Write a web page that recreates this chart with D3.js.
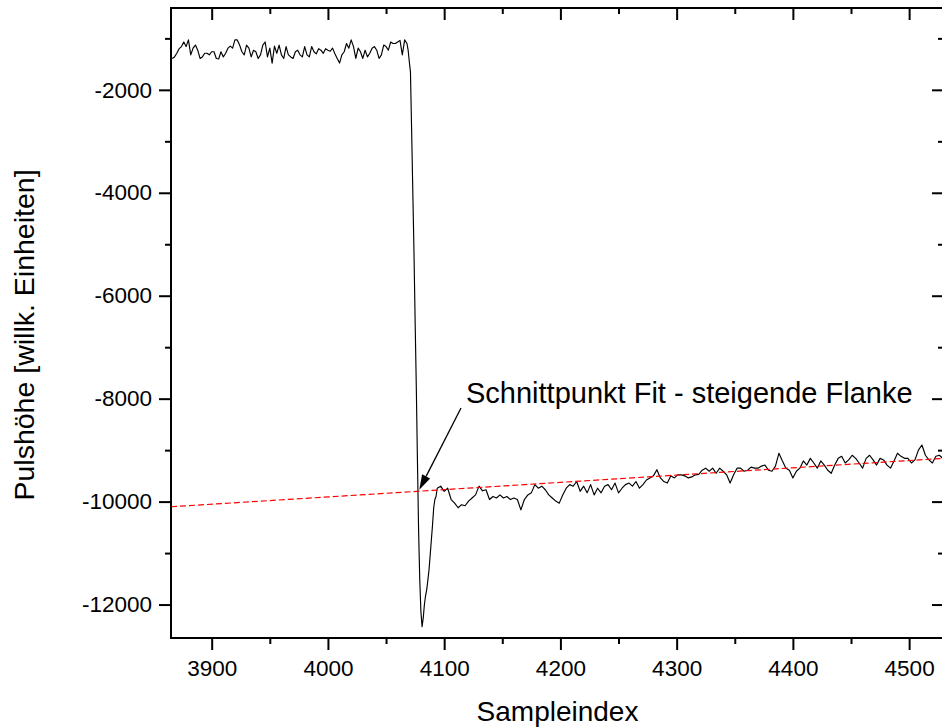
<!DOCTYPE html>
<html>
<head>
<meta charset="utf-8">
<script src="https://cdn.jsdelivr.net/npm/d3@7"></script>
<style>
  html, body { margin: 0; padding: 0; background: #fff; }
  svg { display: block; font-family: "Liberation Sans", Arial, sans-serif; }
</style>
</head>
<body>
<svg id="chart" width="942" height="728"></svg>
<script>
/* Pulse trace, in three pieces:
   baseline before the edge (every 2nd sample), the edge itself (every sample),
   and the slow recovery after it (every 3rd sample). */
const plateauStart = 3866, plateauStep = 2;
const plateauVals = [
  -1390, -1360, -1290, -1200, -1160, -1070, -1160, -1030, -1320, -1190,
  -1130, -1230, -1390, -1360, -1290, -1290, -1320, -1260, -1260, -1390,
  -1400, -1260, -1360, -1290, -1190, -1150, -1190, -1030, -1030, -1130,
  -1260, -1320, -1130, -1190, -1360, -1230, -1260, -1390, -1320, -1130,
  -1070, -1360, -1190, -1480, -1150, -1290, -1130, -1320, -1390, -1160,
  -1320, -1360, -1390, -1260, -1230, -1320, -1360, -1160, -1320, -1360,
  -1160, -1260, -1300, -1200, -1230, -1290, -1200, -1230, -1250, -1190,
  -1300, -1390, -1480, -1320, -1260, -1100, -1190, -1030, -1160, -1390,
  -1190, -1260, -1390, -1230, -1360, -1290, -1190, -1160, -1230, -1390,
  -1320, -1130, -1160, -1230, -1070, -1100, -1100, -1070, -1040, -1320,
  -1030, -1100
];
const edgeStart = 4069;
const edgeVals = [
  -1230, -1450, -1650, -2780, -3950, -5110, -6470, -7730, -9190, -10550,
  -11520, -12140, -12430, -12260, -12000, -11830, -11710, -11520, -11320, -11030,
  -10740, -10450, -10120, -9960, -9900
];
const tailStart = 4094, tailStep = 3;
const tailVals = [
  -9740, -9700, -9800, -9740, -9960, -10030, -10120, -10060, -10080, -9990,
  -9930, -9870, -9700, -9790, -9770, -9960, -9900, -9930, -9870, -9930,
  -9900, -9960, -9930, -9960, -10160, -9960, -9870, -9830, -9670, -9740,
  -9700, -9770, -9870, -9930, -9990, -10030, -9870, -9740, -9670, -9700,
  -9610, -9800, -9700, -9830, -9670, -9870, -9740, -9830, -9700, -9670,
  -9770, -9640, -9830, -9740, -9670, -9640, -9700, -9610, -9740, -9670,
  -9580, -9540, -9500, -9380, -9540, -9610, -9640, -9500, -9540, -9480,
  -9480, -9500, -9540, -9520, -9480, -9470, -9390, -9350, -9410, -9350,
  -9450, -9350, -9410, -9480, -9640, -9480, -9350, -9350, -9410, -9390,
  -9330, -9350, -9350, -9310, -9290, -9390, -9410, -9310, -9060, -9210,
  -9350, -9390, -9540, -9410, -9350, -9210, -9290, -9160, -9250, -9350,
  -9210, -9290, -9390, -9450, -9290, -9160, -9120, -9250, -9190, -9100,
  -9160, -9250, -9350, -9160, -9100, -9190, -9290, -9160, -9190, -9290,
  -9350, -9210, -9060, -9120, -9160, -9160, -9250, -9190, -9000, -8900,
  -9100, -9190, -9250, -9120, -9100, -9160
];

// linear fit of the rising flank (red dashed)
const fitX = [3865, 4530];
const fitY = [-10100, -9160];

// callout: arrow tip sits on the intersection, tail near the label
const calloutText = "Schnittpunkt Fit - steigende Flanke";
const calloutTip = [4078.6, -9770];
const calloutTail = [4114.5, -8180];

const xMajor = [3900, 4000, 4100, 4200, 4300, 4400, 4500];
const xMinor = [3950, 4050, 4150, 4250, 4350, 4450];
const yMajor = [-12000, -10000, -8000, -6000, -4000, -2000];
const yMinor = [-11000, -9000, -7000, -5000, -3000, -1000];

const pulse = [
  ...plateauVals.map((v, i) => [plateauStart + i * plateauStep, v]),
  ...edgeVals.map((v, i) => [edgeStart + i, v]),
  ...tailVals.map((v, i) => [tailStart + i * tailStep, v]),
];

/* ── layout ─────────────────────────────────────────────── */
const svg = d3.select("#chart");
const L = 171, T = 8, R = 944, B = 638;   // plot frame (right edge sits just past the window)
const x = d3.scaleLinear().domain([3865, 4530]).range([L, R]);
const y = d3.scaleLinear().domain([-12650, -410]).range([B, T]);

svg.append("defs").append("clipPath").attr("id", "plotclip")
  .append("rect").attr("x", L).attr("y", T).attr("width", R - L).attr("height", B - T);

const plot = svg.append("g").attr("clip-path", "url(#plotclip)");

plot.append("path").datum(pulse)
  .attr("fill", "none").attr("stroke", "#000").attr("stroke-width", 1.15)
  .attr("stroke-linejoin", "round")
  .attr("d", d3.line().x(d => x(d[0])).y(d => y(d[1])));

plot.append("path").datum(fitX.map((v, i) => [v, fitY[i]]))
  .attr("fill", "none").attr("stroke", "#ff0000").attr("stroke-width", 1.2)
  .attr("stroke-dasharray", "6,3")
  .attr("d", d3.line().x(d => x(d[0])).y(d => y(d[1])));

/* ── axes (Origin style: ticks out on bottom/left, in on top/right) ── */
const fmt = d => String(d);
function styleAxis(g) {
  g.select(".domain").remove();
  g.selectAll(".tick line").attr("stroke", "#000").attr("stroke-width", 2);
  g.selectAll(".tick text").attr("fill", "#000").style("font-size", "22.5px")
    .style("font-family", '"Liberation Sans", Arial, sans-serif');
}

svg.append("g").attr("transform", `translate(0,${B})`)
  .call(d3.axisBottom(x).tickValues(xMajor).tickSize(12).tickPadding(10).tickFormat(fmt)).call(styleAxis);
svg.append("g").attr("transform", `translate(0,${B})`)
  .call(d3.axisBottom(x).tickValues(xMinor).tickSize(6).tickFormat("")).call(styleAxis);
svg.append("g").attr("transform", `translate(0,${T})`)
  .call(d3.axisTop(x).tickValues(xMajor).tickSize(-12).tickFormat("")).call(styleAxis);
svg.append("g").attr("transform", `translate(0,${T})`)
  .call(d3.axisTop(x).tickValues(xMinor).tickSize(-6).tickFormat("")).call(styleAxis);

svg.append("g").attr("transform", `translate(${L},0)`)
  .call(d3.axisLeft(y).tickValues(yMajor).tickSize(12).tickPadding(7).tickFormat(fmt)).call(styleAxis);
svg.append("g").attr("transform", `translate(${L},0)`)
  .call(d3.axisLeft(y).tickValues(yMinor).tickSize(6).tickFormat("")).call(styleAxis);
svg.append("g").attr("transform", `translate(${R},0)`)
  .call(d3.axisRight(y).tickValues(yMajor).tickSize(-12).tickFormat("")).call(styleAxis);
svg.append("g").attr("transform", `translate(${R},0)`)
  .call(d3.axisRight(y).tickValues(yMinor).tickSize(-6).tickFormat("")).call(styleAxis);

svg.append("rect").attr("x", L).attr("y", T).attr("width", R - L).attr("height", B - T)
  .attr("fill", "none").attr("stroke", "#000").attr("stroke-width", 2);

/* ── titles ── */
svg.append("text").attr("x", (L + R) / 2).attr("y", 721).attr("text-anchor", "middle")
  .style("font-size", "28px").text("Sampleindex");
svg.append("text").attr("transform", `translate(34,${(T + B) / 2 + 12}) rotate(-90)`)
  .attr("text-anchor", "middle").style("font-size", "28.5px").text("Pulshöhe [willk. Einheiten]");

/* ── callout ── */
const tip = [x(calloutTip[0]), y(calloutTip[1])];
const tail = [x(calloutTail[0]), y(calloutTail[1])];
const ang = Math.atan2(tip[1] - tail[1], tip[0] - tail[0]);
const headLen = 15, headW = 4.5;
const base = [tip[0] - headLen * Math.cos(ang), tip[1] - headLen * Math.sin(ang)];
svg.append("line").attr("x1", tail[0]).attr("y1", tail[1]).attr("x2", base[0]).attr("y2", base[1])
  .attr("stroke", "#000").attr("stroke-width", 1.3);
svg.append("path").attr("fill", "#000").attr("d", d3.line()([
  tip,
  [base[0] + headW * Math.sin(ang), base[1] - headW * Math.cos(ang)],
  [base[0] - headW * Math.sin(ang), base[1] + headW * Math.cos(ang)],
]) + "Z");
svg.append("text").attr("x", tail[0] + 5).attr("y", tail[1] - 5)
  .style("font-size", "29px").text(calloutText);
</script>
</body>
</html>
